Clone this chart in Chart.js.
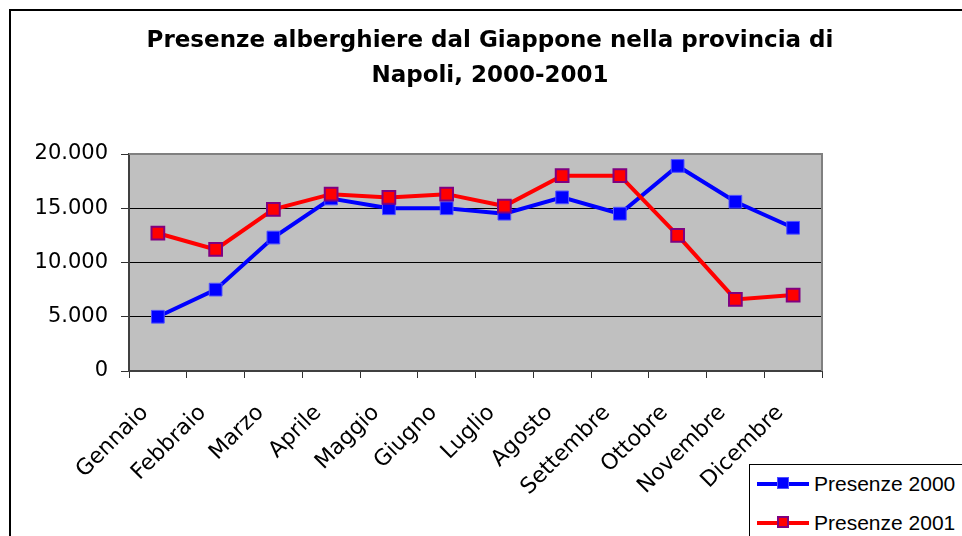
<!DOCTYPE html>
<html>
<head>
<meta charset="utf-8">
<script src="https://cdn.jsdelivr.net/npm/chart.js@4"></script>
<style>
  html, body { margin: 0; padding: 0; background: #fff; overflow: hidden; }
  #wrap { position: relative; width: 962px; height: 536px; }
  #frame { position: absolute; left: 9px; top: 9px; width: 990px; height: 600px;
           border: 2px solid #000; pointer-events: none; }
  #legend { position: absolute; left: 749px; top: 464px; width: 230px; height: 90px;
            border: 1px solid #000; background: #fff;
            font: 21px "Liberation Sans", Arial, sans-serif; color: #000; }
  .item { position: absolute; left: 7px; height: 24px; }
  .sym { position: absolute; left: 0; top: 10px; width: 52px; height: 4px; }
  .mk { position: absolute; left: 20px; top: -5px; width: 12px; height: 12px; box-sizing: border-box; }
  .lbl { position: absolute; left: 57px; top: 0; white-space: nowrap; line-height: 24px; }
</style>
</head>
<body>
<div id="wrap">
  <canvas id="presenze" width="962" height="536"></canvas>
  <div id="frame"></div>
  <div id="legend"></div>
</div>
<script>
var mesi = ["Gennaio", "Febbraio", "Marzo", "Aprile", "Maggio", "Giugno",
            "Luglio", "Agosto", "Settembre", "Ottobre", "Novembre", "Dicembre"];
var presenze2000 = [5000, 7500, 12300, 15900, 15000, 15000, 14500, 16000, 14500, 18900, 15600, 13200];
var presenze2001 = [12700, 11200, 14900, 16300, 16000, 16300, 15200, 18000, 18000, 12500, 6600, 7000];
var yTicks = [0, 5000, 10000, 15000, 20000];

function puntini(v) {
  return String(v).replace(/\B(?=(\d{3})+(?!\d))/g, ".");
}

var font = "'DejaVu Sans', Verdana, sans-serif";

// sfondo grigio dell'area del grafico e bordo in alto/a destra
var sfondoArea = {
  id: "sfondoArea",
  beforeDraw: function(chart) {
    var a = chart.chartArea, c = chart.ctx;
    c.save();
    c.fillStyle = "#C0C0C0";
    c.fillRect(a.left, a.top, a.right - a.left, a.bottom - a.top);
    c.restore();
  },
  beforeDatasetsDraw: function(chart) {
    var a = chart.chartArea, c = chart.ctx;
    c.save();
    c.strokeStyle = "#808080";
    c.lineWidth = 2;
    c.beginPath();
    c.moveTo(a.left, a.top);
    c.lineTo(a.right, a.top);
    c.lineTo(a.right, a.bottom);
    c.stroke();
    c.restore();
  }
};

window.onload = function() {
  var ctx = document.getElementById("presenze");
  var chart = new Chart(ctx, {
    type: 'line',
    data: {
      labels: mesi,
      datasets: [{
        label: "Presenze 2000",
        data: presenze2000,
        borderColor: "#0000FF",
        backgroundColor: "#0000FF",
        borderWidth: 4,
        pointStyle: 'rect',
        pointRadius: 9,
        pointBorderWidth: 1,
        pointBorderColor: "#5050FF",
        pointBackgroundColor: "#0000FF",
        order: 1
      }, {
        label: "Presenze 2001",
        data: presenze2001,
        borderColor: "#FF0000",
        backgroundColor: "#FF0000",
        borderWidth: 4,
        pointStyle: 'rect',
        pointRadius: 9,
        pointBorderWidth: 2,
        pointBorderColor: "#800080",
        pointBackgroundColor: "#FF0000",
        order: 0
      }]
    },
    options: {
      responsive: false,
      animation: false,
      devicePixelRatio: 1,
      layout: { padding: { left: 18, right: 0, top: 4, bottom: 0 } },
      plugins: {
        legend: { display: false },
        tooltip: { enabled: false },
        title: {
          display: true,
          text: ["Presenze alberghiere dal Giappone nella provincia di", "Napoli, 2000-2001"],
          color: "#000",
          font: { family: font, size: 23, weight: 'bold', lineHeight: 1.5 },
          padding: { top: 20, bottom: 61 }
        }
      },
      scales: {
        x: {
          offset: true,
          grid: { display: true, drawOnChartArea: false, offset: true, tickLength: 7, color: "#303030" },
          border: { display: true, color: "#404040", width: 2 },
          ticks: {
            color: "#000", font: { family: font, size: 22 },
            maxRotation: 45, minRotation: 45, autoSkip: false, padding: 22, labelOffset: -13
          },
          afterFit: function(s) { s.height = 165; }
        },
        y: {
          min: 0, max: 20000,
          afterBuildTicks: function(s) { s.ticks = yTicks.map(function(v) { return { value: v }; }); },
          grid: {
            color: function(c) { return c.tick && c.tick.value === 20000 ? "#808080" : "#000"; },
            tickColor: "#303030", tickLength: 8, lineWidth: 1
          },
          border: { display: true, color: "#404040", width: 2 },
          ticks: {
            color: "#000", font: { family: font, size: 21 }, padding: 13,
            callback: function(v) { return puntini(v); }
          },
          afterFit: function(s) { s.width = 111; }
        },
        destra: {
          position: 'right',
          display: true,
          grid: { display: false },
          border: { display: false },
          ticks: { display: false },
          afterFit: function(s) { s.width = 140; }
        }
      }
    },
    plugins: [sfondoArea]
  });

  var leg = document.getElementById("legend");
  chart.data.datasets.forEach(function(ds, i) {
    var it = document.createElement("div");
    it.className = "item";
    it.style.top = (7 + i * 39) + "px";
    var sym = document.createElement("div");
    sym.className = "sym";
    sym.style.background = ds.borderColor;
    var mk = document.createElement("div");
    mk.className = "mk";
    mk.style.background = ds.pointBackgroundColor;
    mk.style.border = ds.pointBorderWidth + "px solid " + ds.pointBorderColor;
    sym.appendChild(mk);
    var lbl = document.createElement("span");
    lbl.className = "lbl";
    lbl.textContent = ds.label;
    it.appendChild(sym);
    it.appendChild(lbl);
    leg.appendChild(it);
  });
};
</script>
</body>
</html>
